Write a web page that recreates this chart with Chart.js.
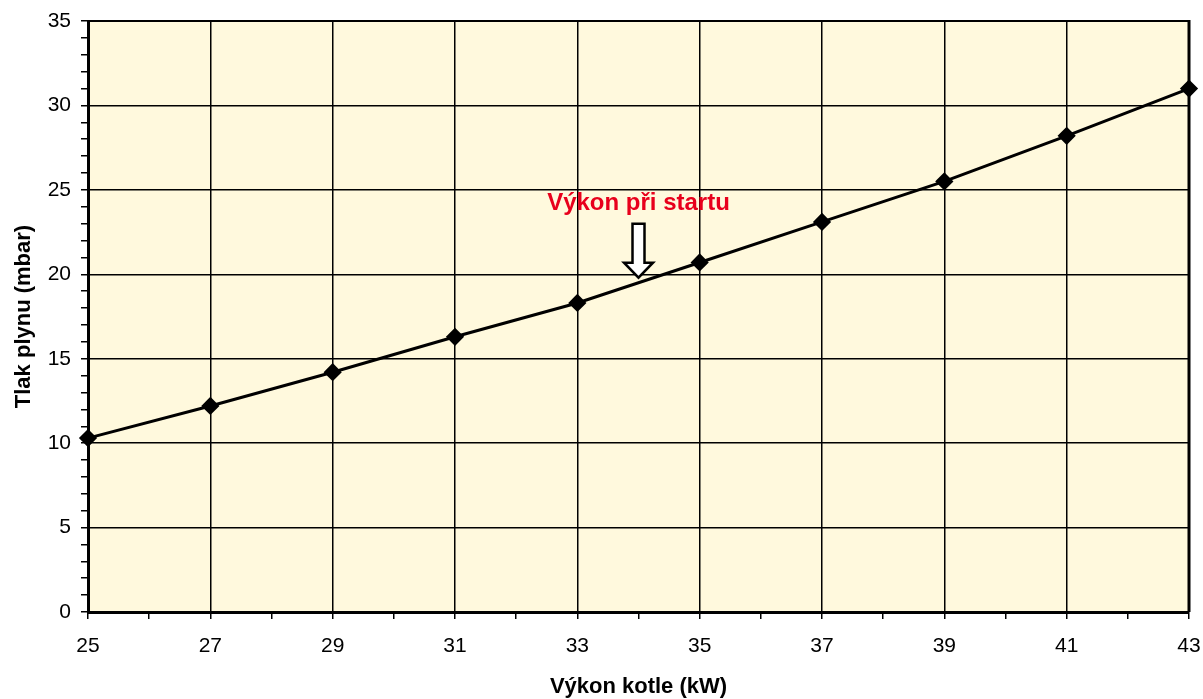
<!DOCTYPE html>
<html>
<head>
<meta charset="utf-8">
<script src="https://cdn.jsdelivr.net/npm/chart.js@4"></script>
<style>
  html, body { margin: 0; padding: 0; background: #fff; }
  #wrap { width: 1203px; height: 699px; }
</style>
</head>
<body>
<div id="wrap"><canvas id="tlakChart" width="1203" height="699"></canvas></div>
<script>
// Tlak plynu vs. vykon kotle
var vykon = [25, 27, 29, 31, 33, 35, 37, 39, 41, 43];
var tlak = [10.3, 12.2, 14.2, 16.3, 18.3, 20.7, 23.1, 25.5, 28.2, 31.0];
var startVykon = 34;
var startArrowTop = 23.0;
var startArrowTip = 19.8;
var startLabel = 'Výkon při startu';
var startLabelY = 24.2;

var fontFam = "Arial, 'Liberation Sans', sans-serif";

var pozadi = {
    id: 'pozadi',
    beforeDraw: function (chart) {
        var a = chart.chartArea, ctx = chart.ctx;
        ctx.save();
        ctx.fillStyle = '#FFF9DD';
        ctx.fillRect(a.left, a.top, a.right - a.left, a.bottom - a.top);
        ctx.restore();
    },
    afterDraw: function (chart) {
        var a = chart.chartArea, ctx = chart.ctx;
        var x = chart.scales.x, y = chart.scales.y;
        ctx.save();
        // ramecek nahore a vpravo
        ctx.strokeStyle = '#000';
        ctx.lineWidth = 2;
        ctx.beginPath();
        ctx.moveTo(a.left, a.top);
        ctx.lineTo(a.right, a.top);
        ctx.stroke();
        ctx.lineWidth = 3;
        ctx.beginPath();
        ctx.moveTo(a.right, a.top - 1);
        ctx.lineTo(a.right, a.bottom);
        ctx.stroke();

        // sipka
        var px = x.getPixelForValue(startVykon);
        var top = y.getPixelForValue(startArrowTop);
        var tip = y.getPixelForValue(startArrowTip);
        var headH = 15, shaftW = 6, headW = 14.5;
        ctx.fillStyle = '#fff';
        ctx.lineWidth = 2.5;
        ctx.lineJoin = 'miter';
        ctx.beginPath();
        ctx.moveTo(px - shaftW, top);
        ctx.lineTo(px + shaftW, top);
        ctx.lineTo(px + shaftW, tip - headH);
        ctx.lineTo(px + headW, tip - headH);
        ctx.lineTo(px, tip);
        ctx.lineTo(px - headW, tip - headH);
        ctx.lineTo(px - shaftW, tip - headH);
        ctx.closePath();
        ctx.fill();
        ctx.stroke();

        // popisek
        ctx.fillStyle = '#E8001C';
        ctx.font = 'bold 24px ' + fontFam;
        ctx.textAlign = 'center';
        ctx.textBaseline = 'middle';
        ctx.fillText(startLabel, px, y.getPixelForValue(startLabelY));
        ctx.restore();
    }
};

new Chart(document.getElementById('tlakChart'), {
    type: 'line',
    data: {
        datasets: [{
            data: vykon.map(function (v, i) { return { x: v, y: tlak[i] }; }),
            borderColor: '#000',
            backgroundColor: '#000',
            borderWidth: 3,
            pointStyle: 'rectRot',
            pointRadius: 7,
            pointHoverRadius: 7,
            tension: 0,
            clip: false
        }]
    },
    options: {
        responsive: false,
        animation: false,
        layout: { padding: { top: 21, right: 14, left: 0, bottom: 0 } },
        plugins: { legend: { display: false }, tooltip: { enabled: false } },
        scales: {
            x: {
                type: 'linear',
                min: 25,
                max: 43,
                afterFit: function (s) { s.height = 87; s.paddingLeft = 0; s.paddingRight = 0; },
                ticks: {
                    stepSize: 1,
                    autoSkip: false,
                    maxRotation: 0,
                    color: '#000',
                    padding: 15,
                    font: { family: fontFam, size: 21 },
                    callback: function (v) { return (v - 25) % 2 === 0 ? String(v) : ''; }
                },
                grid: {
                    color: function (c) { return (c.tick && (c.tick.value - 25) % 2 === 0) ? '#000' : 'rgba(0,0,0,0)'; },
                    tickColor: '#000',
                    lineWidth: 1.5,
                    tickLength: 7
                },
                border: { color: '#000', width: 3 },
                title: {
                    display: true,
                    text: 'Výkon kotle (kW)',
                    color: '#000',
                    font: { family: fontFam, size: 22, weight: 'bold' },
                    padding: { top: 10, bottom: -1 }
                }
            },
            y: {
                min: 0,
                max: 35,
                afterFit: function (s) { s.width = 88; s.paddingTop = 0; s.paddingBottom = 0; },
                ticks: {
                    stepSize: 1,
                    autoSkip: false,
                    color: '#000',
                    padding: 10,
                    font: { family: fontFam, size: 21 },
                    callback: function (v) { return v % 5 === 0 ? String(v) : ''; }
                },
                grid: {
                    color: function (c) { return (c.tick && c.tick.value % 5 === 0) ? '#000' : 'rgba(0,0,0,0)'; },
                    tickColor: '#000',
                    lineWidth: 1.5,
                    tickLength: 7
                },
                border: { color: '#000', width: 3 },
                title: {
                    display: true,
                    text: 'Tlak plynu (mbar)',
                    color: '#000',
                    font: { family: fontFam, size: 22, weight: 'bold' },
                    padding: { top: 11, bottom: 0 }
                }
            }
        }
    },
    plugins: [pozadi]
});
</script>
</body>
</html>
